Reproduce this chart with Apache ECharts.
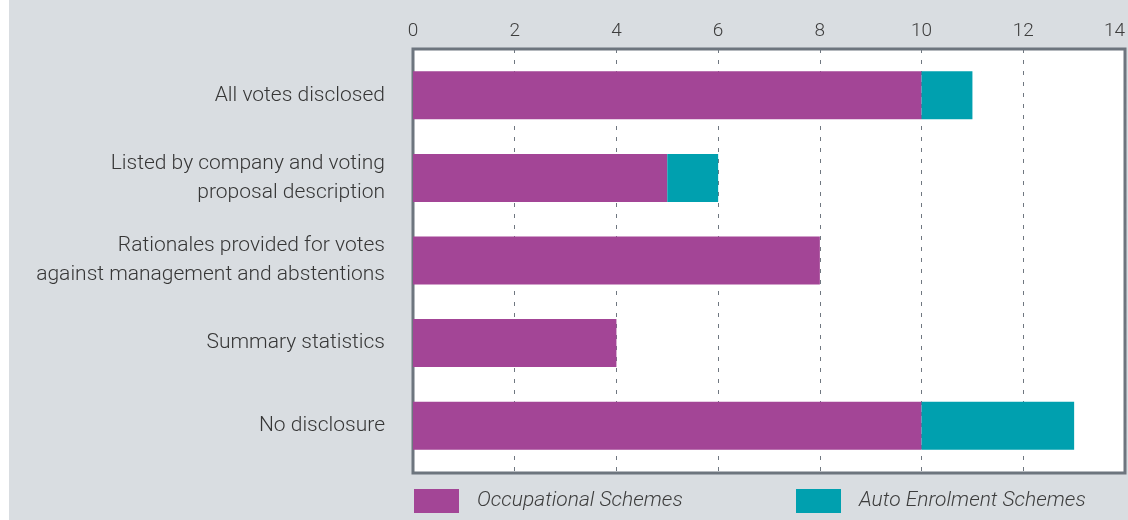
<!DOCTYPE html>
<html>
<head>
<meta charset="utf-8">
<style>
  html, body { margin: 0; padding: 0; background: #ffffff; }
  #main { position: absolute; left: 9px; top: 0; width: 1119px; height: 520px; }
</style>
<script src="https://cdn.jsdelivr.net/npm/echarts@6/dist/echarts.min.js"></script>
</head>
<body>
<div id="main"></div>
<script>
// data
var categories = [
    'All votes disclosed',
    'Listed by company and voting\nproposal description',
    'Rationales provided for votes\nagainst management and abstentions',
    'Summary statistics',
    'No disclosure'
];
var occupational = [10, 5, 8, 4, 10];
var autoEnrolment = [1, 1, 0, 0, 3];
var tickLabels = ['0', '2', '4', '6', '8', '10', '12', '14'];

var purple = '#a34596';
var teal = '#00a0af';
var font = 'Roboto, "Liberation Sans", sans-serif';

var myChart = echarts.init(document.getElementById('main'));
var option = {
    backgroundColor: '#d9dde1',
    animation: false,
    textStyle: { fontFamily: font },
    legend: [
        {
            data: ['Occupational Schemes'],
            left: 405, top: 489, padding: 0,
            icon: 'rect', itemWidth: 45, itemHeight: 24,
            textStyle: { fontSize: 21, fontStyle: 'italic', fontWeight: 300, color: '#3d3d3d', fontFamily: font, padding: [5, 0, 0, 13] }
        },
        {
            data: ['Auto Enrolment Schemes'],
            left: 787, top: 489, padding: 0,
            icon: 'rect', itemWidth: 45, itemHeight: 24,
            textStyle: { fontSize: 21, fontStyle: 'italic', fontWeight: 300, color: '#3d3d3d', fontFamily: font, padding: [5, 0, 0, 13] }
        }
    ],
    grid: [
        // frame with the white plot background
        { left: 404, right: 3, top: 49, bottom: 47, show: true, backgroundColor: '#ffffff', borderColor: '#6d757e', borderWidth: 3 },
        // bars sit slightly inside the frame
        { left: 404, right: 3, top: 54, bottom: 53 }
    ],
    xAxis: [
        {
            gridIndex: 0, type: 'value', position: 'top',
            min: 0, max: 14, interval: 2,
            axisLine: { show: false }, axisTick: { show: false },
            axisLabel: {
                fontSize: 19, fontWeight: 300, color: '#3d3d3d', margin: 8,
                alignMaxLabel: 'right',
                formatter: function (v) { return tickLabels[v / 2]; }
            },
            splitLine: { show: true, lineStyle: { color: '#6f7780', width: 1, type: [4, 7] } }
        },
        {
            gridIndex: 1, type: 'value', min: 0, max: 14, interval: 2, show: false
        }
    ],
    yAxis: [
        {
            gridIndex: 0, type: 'value', min: 0, max: 1, show: false
        },
        {
            gridIndex: 1, type: 'category', data: categories, inverse: true,
            axisLine: { show: false }, axisTick: { show: false },
            axisLabel: { fontSize: 21, fontWeight: 300, color: '#363636', lineHeight: 29, margin: 28, align: 'right', padding: [8, 0, 0, 0] }
        }
    ],
    series: [
        {
            name: 'Occupational Schemes', type: 'bar', stack: 'total',
            xAxisIndex: 1, yAxisIndex: 1, barWidth: 48, zlevel: 1,
            itemStyle: { color: purple },
            data: occupational
        },
        {
            name: 'Auto Enrolment Schemes', type: 'bar', stack: 'total',
            xAxisIndex: 1, yAxisIndex: 1, barWidth: 48, zlevel: 1,
            itemStyle: { color: teal },
            data: autoEnrolment
        }
    ]
};
myChart.setOption(option);
</script>
</body>
</html>
